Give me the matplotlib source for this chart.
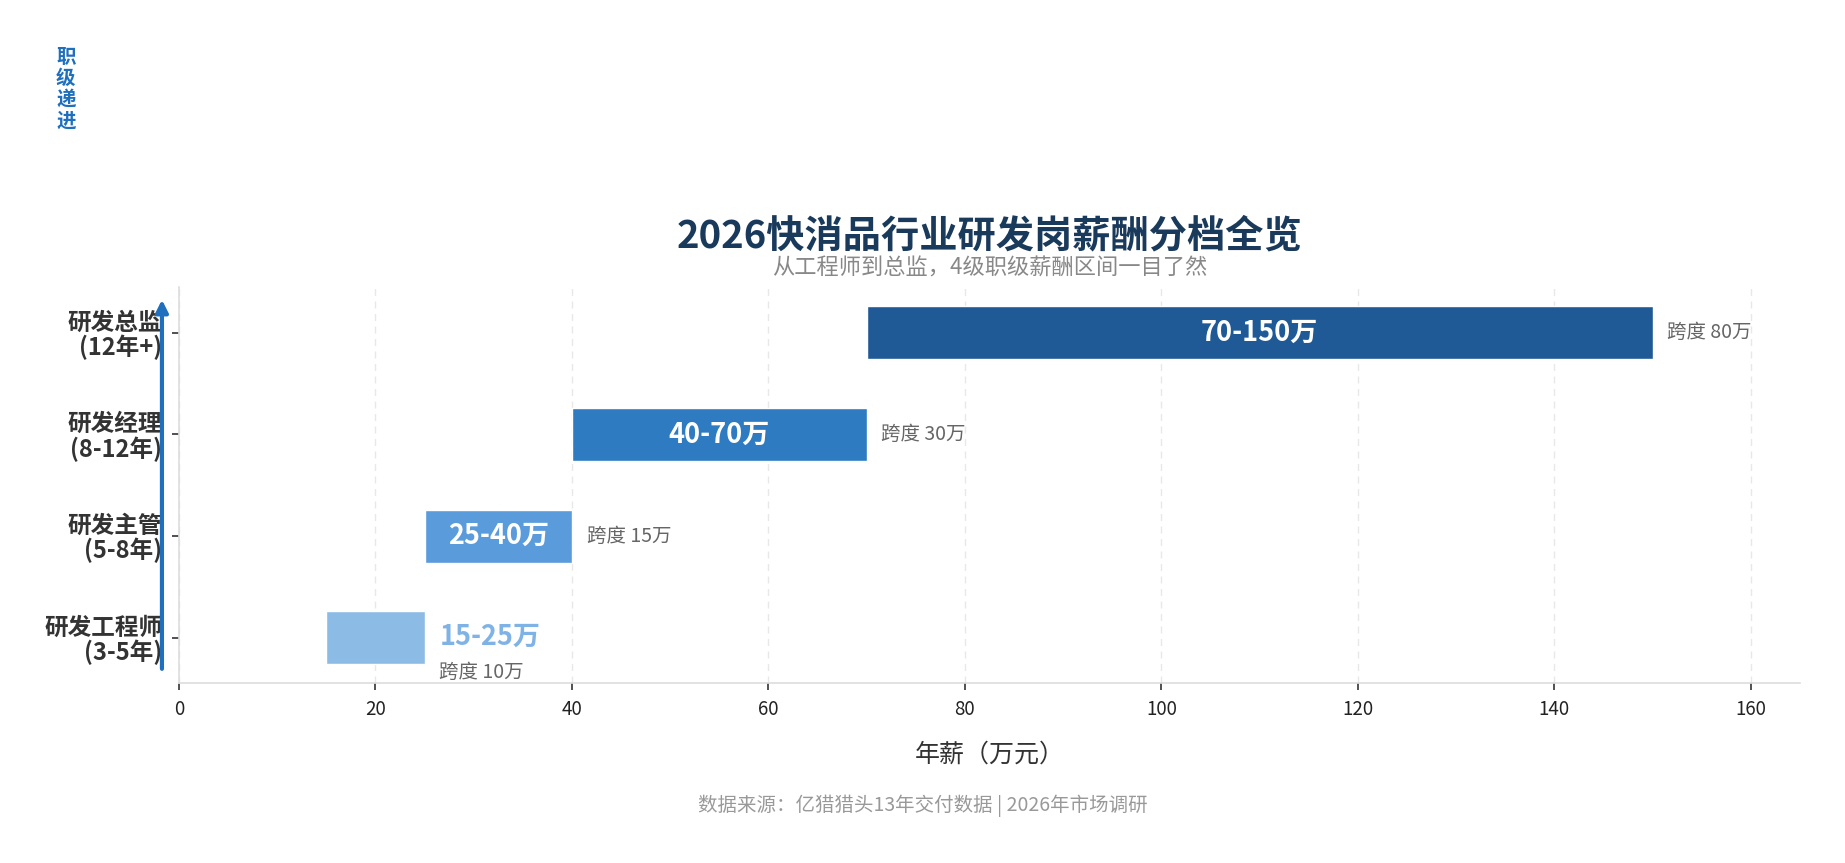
import matplotlib
matplotlib.use("Agg")
import matplotlib.pyplot as plt

plt.rcParams['font.family'] = ['Noto Sans CJK SC', 'DejaVu Sans']

# ---- data ----
levels = ["研发工程师\n(3-5年)", "研发主管\n(5-8年)", "研发经理\n(8-12年)", "研发总监\n(12年+)"]
low = [15, 25, 40, 70]
high = [25, 40, 70, 150]
range_labels = ["15-25万", "25-40万", "40-70万", "70-150万"]
span_labels = ["跨度 10万", "跨度 15万", "跨度 30万", "跨度 80万"]
xticks = [0, 20, 40, 60, 80, 100, 120, 140, 160]
colors = ["#8CBBE6", "#5A9BDC", "#2E7BC1", "#1F5A96"]

title = "2026快消品行业研发岗薪酬分档全览"
subtitle = "从工程师到总监，4级职级薪酬区间一目了然"
xlabel = "年薪（万元）"
footer = "数据来源：亿猎猎头13年交付数据 | 2026年市场调研"
side_note = "职\n级\n递\n进"

fig = plt.figure(figsize=(18.45, 8.63), dpi=100)
ax = fig.add_axes([0.097, 0.208, 0.8786, 0.4594])

ys = list(range(len(levels)))
widths = [h - l for l, h in zip(low, high)]
ax.barh(ys, widths, left=low, height=0.52, color=colors, edgecolor="white", linewidth=1, zorder=3)

for i, (l, h) in enumerate(zip(low, high)):
    if i == 0:
        ax.text(h + 1.5, i + 0.01, range_labels[i], ha="left", va="center", fontsize=19.5,
                fontweight="bold", color="#7FB3E6", zorder=4)
        ax.text(h + 1.5, i - 0.34, span_labels[i], ha="left", va="center", fontsize=14,
                color="#666666", zorder=4)
    else:
        ax.text((l + h) / 2, i, range_labels[i], ha="center", va="center", fontsize=19.5,
                fontweight="bold", color="white", zorder=4)
        ax.text(h + 1.5, i, span_labels[i], ha="left", va="center", fontsize=14,
                color="#666666", zorder=4)

ax.set_xlim(0, 165)
ax.set_ylim(-0.45, 3.45)
ax.set_xticks(xticks)
ax.set_xticklabels([str(v) for v in xticks], fontsize=13.5, color="#222222")
ax.set_yticks(ys)
ax.set_yticklabels(levels, fontsize=17, fontweight="bold", color="#333333", linespacing=1.0)
ax.tick_params(axis="y", length=5, width=1.2, pad=7, color="#333333")
ax.tick_params(axis="x", length=5, width=1.2, pad=6, color="#333333")
ax.set_xlabel(xlabel, fontsize=18, color="#333333", labelpad=16)

ax.grid(axis="x", linestyle=(0, (5, 4)), color="#E8E8E8", linewidth=1, zorder=0)
ax.set_axisbelow(True)
for s in ["top", "right"]:
    ax.spines[s].set_visible(False)
ax.spines["left"].set_color("#DDDDDD")
ax.spines["bottom"].set_color("#DDDDDD")
ax.spines["left"].set_linewidth(1.2)
ax.spines["bottom"].set_linewidth(1.2)

# progression arrow
ax.annotate("", xy=(-0.0105, 0.975), xytext=(-0.0105, 0.03), xycoords="axes fraction",
            textcoords="axes fraction",
            arrowprops=dict(arrowstyle="-|>", color="#1F6FBF", lw=3, mutation_scale=18),
            annotation_clip=False, zorder=10)

fig.text(0.5365, 0.727, title, ha="center", va="center", fontsize=27.5, fontweight="bold", color="#1A3A5C")
fig.text(0.5365, 0.689, subtitle, ha="center", va="center", fontsize=16, color="#888888")
fig.text(0.0357, 0.897, side_note, ha="center", va="center", fontsize=14, fontweight="bold",
         color="#1F6FBF", linespacing=1.15)
fig.text(0.5, 0.066, footer, ha="center", va="center", fontsize=14, color="#999999")

fig.savefig("out.png", dpi=100, facecolor="white")
